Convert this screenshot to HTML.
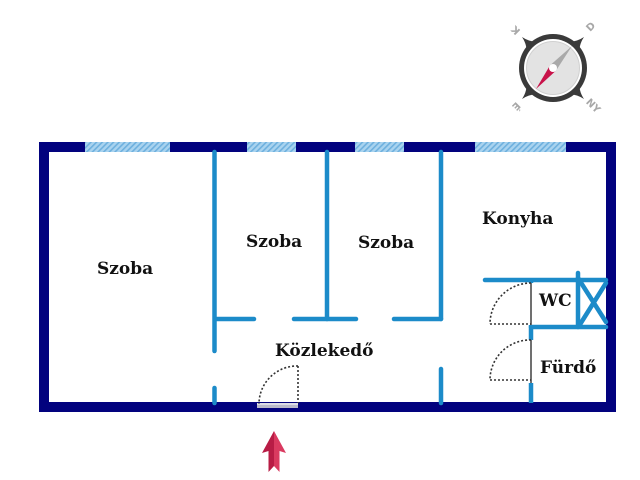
<!DOCTYPE html>
<html>
<head>
<meta charset="utf-8">
<style>
html,body{margin:0;padding:0;background:#fff;}
svg{display:block;}
.lbl{font-family:"DejaVu Serif","Liberation Serif",serif;font-weight:bold;fill:#111;}
.cmp{font-family:"DejaVu Sans","Liberation Sans",sans-serif;font-weight:bold;fill:#a8a8a8;}
</style>
</head>
<body>
<svg width="640" height="480" viewBox="0 0 640 480" xmlns="http://www.w3.org/2000/svg">
<defs>
<pattern id="hatch" width="4" height="4" patternUnits="userSpaceOnUse" patternTransform="rotate(45)">
<rect width="4" height="4" fill="#a9d3ef"/>
<rect width="1.6" height="4" fill="#6eb0de"/>
</pattern>
</defs>
<rect width="640" height="480" fill="#fff"/>

<!-- outer walls -->
<rect x="44" y="147" width="567" height="260" fill="none" stroke="#02027e" stroke-width="10"/>

<!-- windows -->
<rect x="85" y="142" width="85" height="10" fill="url(#hatch)"/>
<rect x="247" y="142" width="49" height="10" fill="url(#hatch)"/>
<rect x="355" y="142" width="49" height="10" fill="url(#hatch)"/>
<rect x="475" y="142" width="91" height="10" fill="url(#hatch)"/>

<!-- entrance door strip -->
<rect x="257" y="403" width="41" height="5" fill="#b9b9cc"/>
<rect x="257" y="403" width="41" height="2" fill="#dcdce6"/>

<!-- interior walls -->
<g stroke="#1c8bc9" stroke-width="4.5" stroke-linecap="round" fill="none">
<line x1="214.5" y1="152" x2="214.5" y2="351"/>
<line x1="214.5" y1="388" x2="214.5" y2="403"/>
<line x1="215" y1="319" x2="254" y2="319"/>
<line x1="327" y1="152" x2="327" y2="319"/>
<line x1="294" y1="319" x2="356" y2="319"/>
<line x1="441" y1="152" x2="441" y2="319"/>
<line x1="394" y1="319" x2="441" y2="319"/>
<line x1="441" y1="369" x2="441" y2="403"/>
<line x1="485" y1="280" x2="606" y2="280"/>
<line x1="531" y1="280" x2="531" y2="283" stroke-linecap="butt"/>
<line x1="531" y1="325" x2="531" y2="340" stroke-linecap="butt"/>
<line x1="531" y1="383" x2="531" y2="403" stroke-linecap="butt"/>
<line x1="531" y1="327" x2="606" y2="327"/>
<line x1="578" y1="273" x2="578" y2="327"/>
<line x1="578" y1="278" x2="606" y2="322"/>
<line x1="606" y1="283" x2="579" y2="326"/>
</g>

<!-- door leaves -->
<g stroke="#707070" stroke-width="2" fill="none">
<line x1="531" y1="283" x2="531" y2="325"/>
<line x1="531" y1="340" x2="531" y2="383"/>
</g>

<!-- door swings dotted -->
<g stroke="#333" stroke-width="1.6" stroke-dasharray="2,2" fill="none">
<path d="M298 366 A38 38 0 0 0 259 404"/>
<line x1="298" y1="366" x2="298" y2="403"/>
<path d="M531 283 A41 41 0 0 0 490 324"/>
<line x1="490" y1="324" x2="531" y2="324"/>
<path d="M531 340 A40 40 0 0 0 490 380"/>
<line x1="490" y1="380" x2="531" y2="380"/>
</g>

<!-- labels -->
<text class="lbl" x="97" y="274" font-size="17">Szoba</text>
<text class="lbl" x="246" y="247" font-size="17">Szoba</text>
<text class="lbl" x="358" y="248" font-size="17">Szoba</text>
<text class="lbl" x="482" y="224" font-size="17">Konyha</text>
<text class="lbl" x="539" y="306" font-size="17">WC</text>
<text class="lbl" x="540" y="373" font-size="17">Fürdő</text>
<text class="lbl" x="275" y="356" font-size="17">Közlekedő</text>

<!-- compass -->
<g transform="translate(553,68)">
<g fill="#3a3a3a">
<path d="M-31,-31 Q-22,-25 -13,-27 L-27,-13 Q-25,-22 -31,-31 Z"/>
<path d="M31,-31 Q22,-25 13,-27 L27,-13 Q25,-22 31,-31 Z"/>
<path d="M-31,31 Q-22,25 -13,27 L-27,13 Q-25,22 -31,31 Z"/>
<path d="M31,31 Q22,25 13,27 L27,13 Q25,22 31,31 Z"/>
</g>
<circle r="34" fill="#3a3a3a"/>
<circle r="29" fill="#fff"/>
<circle r="26.5" fill="#e3e3e3" stroke="#d0d0d0" stroke-width="1"/>
<polygon points="19,-22 3,2.6 -3,-2.6" fill="#a9a9a9"/>
<polygon points="-17,21 3,2.6 -3,-2.6" fill="#c8134a"/>
<circle r="4" fill="#fff"/>
<text class="cmp" x="0" y="0" font-size="10" transform="translate(-37,-38) rotate(-135)" text-anchor="middle" dominant-baseline="middle">K</text>
<text class="cmp" x="0" y="0" font-size="10" transform="translate(38,-41) rotate(-45)" text-anchor="middle" dominant-baseline="middle">D</text>
<text class="cmp" x="0" y="0" font-size="10" transform="translate(-37,38) rotate(135)" text-anchor="middle" dominant-baseline="middle">É</text>
<text class="cmp" x="0" y="0" font-size="10" transform="translate(40,38) rotate(45)" text-anchor="middle" dominant-baseline="middle">NY</text>
</g>

<!-- entrance arrow -->
<polygon points="274,431 262,453 268.5,451 268.5,472 274,466" fill="#b81c45"/>
<polygon points="274,431 286,453 279.5,451 279.5,472 274,466" fill="#da3a60"/>
</svg>
</body>
</html>
